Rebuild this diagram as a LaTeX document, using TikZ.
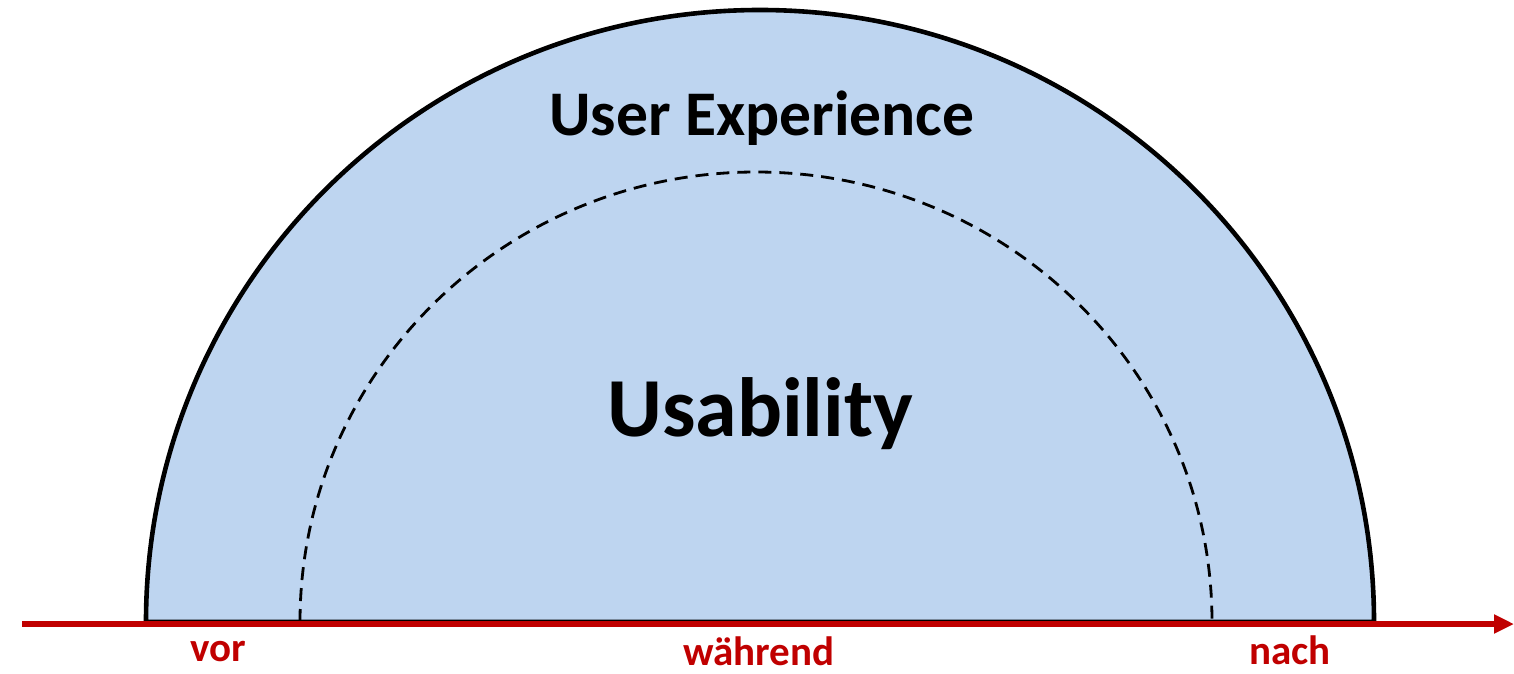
\documentclass[tikz,border=0pt]{standalone}
\usepackage{fontspec}
\setmainfont{Carlito}
\usetikzlibrary{arrows.meta}
\definecolor{uxfill}{HTML}{BED5F0}
\definecolor{axisred}{HTML}{C00000}
\begin{document}
\begin{tikzpicture}[x=0.5pt,y=-0.5pt,
  outerarc/.style={draw=black,line width=2.3pt,fill=uxfill},
  innerarc/.style={draw=black,line width=1.4pt,dash pattern=on 6.5pt off 4pt},
  axis/.style={draw=axisred,line width=2.8pt,-{Triangle[length=10pt,width=9pt]}},
  timelabel/.style={text=axisred,font=\bfseries\fontsize{20.5}{24}\selectfont,anchor=base,inner sep=0pt},
  biglabel/.style={font=\bfseries,anchor=base,inner sep=0pt}]
\useasboundingbox (0,0) rectangle (1514,674);
% outer half ellipse
\path[outerarc] (146,622) arc[start angle=180,end angle=0,x radius=614,y radius=-612] -- cycle;
% inner dashed half ellipse
\path[innerarc] (300,622) arc[start angle=180,end angle=0,x radius=456,y radius=-450];
% axis
\coordinate (axstart) at (22,624);
\coordinate (axend) at (1514,624);
\draw[axis] (axstart) -- (axend);
% labels
\node[biglabel,font=\bfseries\fontsize{31.8}{36}\selectfont] (ux) at (762,135) {User Experience};
\node[biglabel,font=\bfseries\fontsize{42}{48}\selectfont] (usab) at (760,436) {Usability};
\node[timelabel] (vor) at (218,661) {vor};
\node[timelabel] (waehrend) at (759,665) {während};
\node[timelabel] (nach) at (1290,664) {nach};
\end{tikzpicture}
\end{document}
